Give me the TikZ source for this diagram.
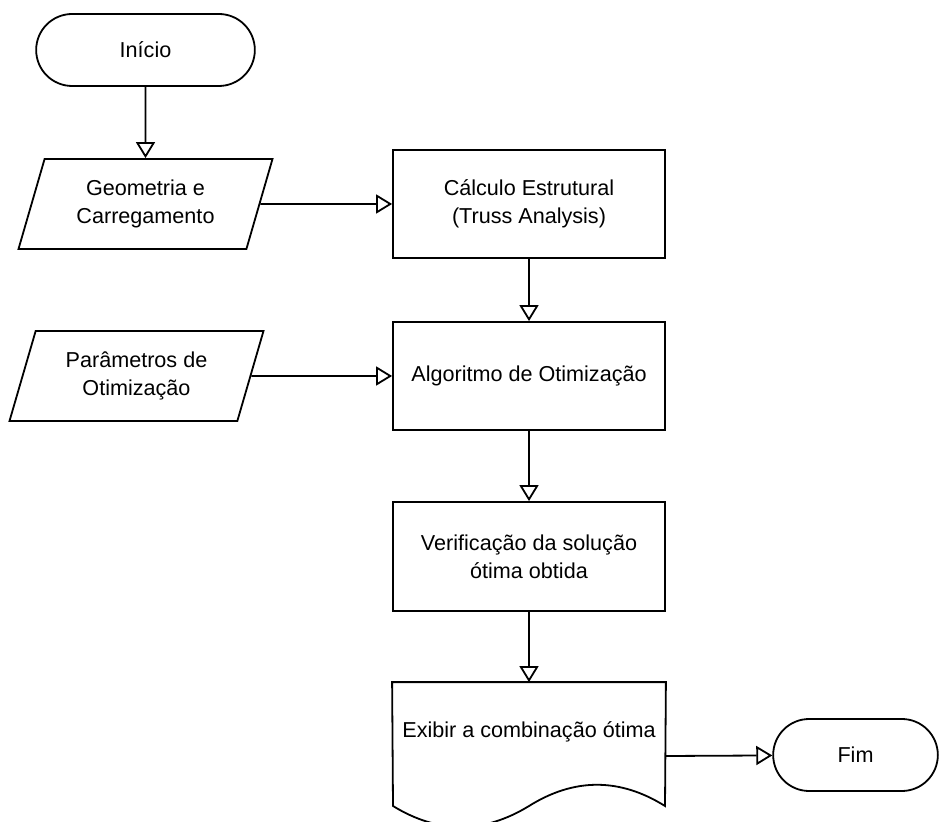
\documentclass[tikz,border=0pt]{standalone}
\usepackage{fontspec}
\setmainfont{Liberation Sans}
\usetikzlibrary{shapes.geometric,shapes.misc,arrows.meta}

\tikzset{
  base/.style={draw,line width=0.9pt,align=center,font=\fontsize{10.8}{14}\selectfont},
  terminal/.style={base,rounded rectangle,minimum width=116pt,minimum height=36pt},
  io/.style={base,trapezium,trapezium left angle=67,trapezium right angle=113,
    trapezium stretches body,minimum width=127pt,minimum height=45pt,inner xsep=0pt},
  process/.style={base,rectangle,minimum width=136pt,minimum height=54pt},
  flow/.style={line width=0.9pt,-{Triangle[open,width=9.5pt,length=8pt]}}
}

\begin{document}
\begin{tikzpicture}[x=0.5pt,y=-0.5pt]
\useasboundingbox (0,0) rectangle (941,822);
% Start and inputs
\node[terminal] (inicio) at (145.5,50) {Início};
\node[io] (geo) at (145.5,204) {Geometria e\\Carregamento};
\node[io] (param) at (136.5,376) {Parâmetros de\\Otimização};
% Processing column
\node[process] (calc) at (529,204) {Cálculo Estrutural\\(Truss Analysis)};
\node[process] (algo) at (529,376) {Algoritmo de Otimização};
\node[process,minimum height=54.5pt] (verif) at (529,556.5) {Verificação da solução\\ótima obtida};
% Output document and end
\node[base,draw=none,minimum width=136pt,minimum height=73pt,
  label={[base,draw=none,yshift=12pt]center:Exibir a combinação ótima}] (exibir) at (529,756) {};
\draw[line width=0.9pt] (exibir.north west) -- (exibir.north east) -- (665,806)
  .. controls (619.7,777.7) and (574.3,777.7) .. (529,806)
  .. controls (483.7,833.8) and (438.3,833.8) .. (393,806) -- cycle;
\node[terminal,minimum width=89pt] (fim) at (855.5,755) {Fim};
% Connections
\draw[flow] (inicio) -- (geo);
\draw[flow] (geo) -- (calc);
\draw[flow] (calc) -- (algo);
\draw[flow] (param) -- (algo);
\draw[flow] (algo) -- (verif);
\draw[flow] (verif) -- (exibir);
\draw[flow] (exibir.east) -- (fim);
\end{tikzpicture}
\end{document}
